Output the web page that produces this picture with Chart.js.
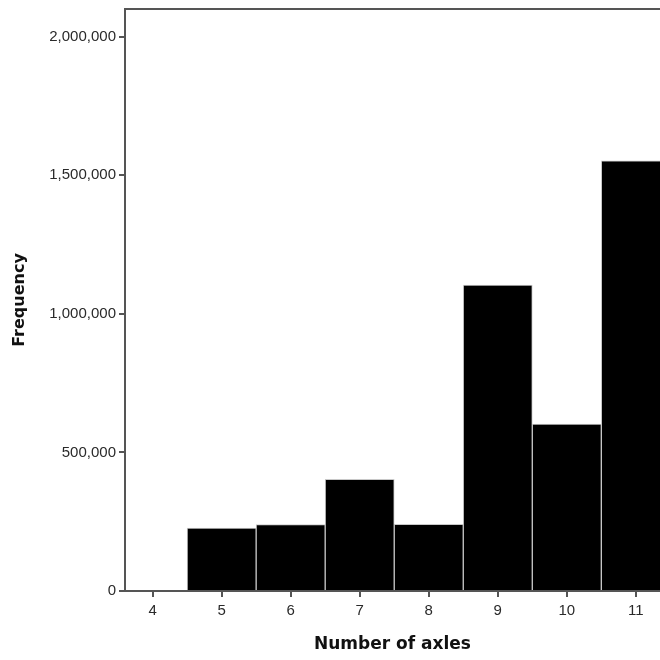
<!DOCTYPE html>
<html>
<head>
<meta charset="utf-8">
<script src="https://cdn.jsdelivr.net/npm/chart.js@4"></script>
<style>
    html, body { margin: 0; padding: 0; background: #fff; overflow: hidden; }
    #wrap { width: 660px; height: 660px; }
</style>
</head>
<body>
<div id="wrap"><canvas id="histCanvas" width="660" height="660"></canvas></div>
<script>
// --------------------------------------------------------------------
// DATA
// --------------------------------------------------------------------
const axles = [4, 5, 6, 7, 8, 9, 10, 11];
const frequency = [0, 227000, 240000, 403000, 241000, 1104000, 602000, 1552000];
const yTicks = [0, 500000, 1000000, 1500000, 2000000];

const axisGray = "#555";

// top frame line of the plot area
const framePlugin = {
    id: "frame",
    afterDraw(chart) {
        const { ctx, chartArea } = chart;
        ctx.save();
        ctx.strokeStyle = axisGray;
        ctx.lineWidth = 2;
        ctx.beginPath();
        ctx.moveTo(chartArea.left, chartArea.top);
        ctx.lineTo(chartArea.right, chartArea.top);
        ctx.stroke();
        ctx.restore();
    }
};

const ctx = document.getElementById("histCanvas").getContext("2d");

new Chart(ctx, {
    type: "bar",
    data: {
        datasets: [{
            label: "Frequency",
            data: axles.map((a, i) => ({ x: a, y: frequency[i] })),
            backgroundColor: "#000",
            borderColor: "#c8c8c8",
            borderWidth: 1,
            barPercentage: 1,
            categoryPercentage: 1
        }]
    },
    options: {
        responsive: false,
        animation: false,
        layout: { padding: { top: 9, left: 0, right: 0, bottom: 0 } },
        plugins: {
            legend: { display: false },
            tooltip: { enabled: false }
        },
        scales: {
            x: {
                type: "linear",
                offset: false,
                min: 3.6,
                max: 11.35,
                afterFit(scale) {
                    scale.height = 69;
                    scale.paddingRight = 0;
                },
                ticks: {
                    stepSize: 1,
                    includeBounds: false,
                    color: "#2a2a2a",
                    font: { family: "Liberation Sans", size: 15 },
                    padding: 5
                },
                grid: { offset: false, drawOnChartArea: false, drawTicks: true, tickLength: 6, color: axisGray, lineWidth: 2 },
                border: { display: true, color: axisGray, width: 2 },
                title: {
                    display: true,
                    text: "Number of axles",
                    color: "#111",
                    font: { family: "DejaVu Sans", size: 17, weight: "bold" },
                    padding: { top: 4, bottom: 5 }
                }
            },
            y: {
                min: 0,
                max: 2100000,
                afterFit(scale) {
                    scale.width = 125;
                    scale.paddingTop = 0;
                },
                afterBuildTicks(scale) { scale.ticks = yTicks.map(v => ({ value: v })); },
                ticks: {
                    color: "#2a2a2a",
                    font: { family: "Liberation Sans", size: 15 },
                    padding: 3,
                    callback: v => v.toLocaleString("en-US")
                },
                grid: { drawOnChartArea: false, drawTicks: true, tickLength: 6, color: axisGray, lineWidth: 2 },
                border: { display: true, color: axisGray, width: 2 },
                title: {
                    display: true,
                    text: "Frequency",
                    color: "#111",
                    font: { family: "DejaVu Sans", size: 16, weight: "bold" },
                    padding: { top: 10, bottom: 4 }
                }
            }
        }
    },
    plugins: [framePlugin]
});
</script>
</body>
</html>
